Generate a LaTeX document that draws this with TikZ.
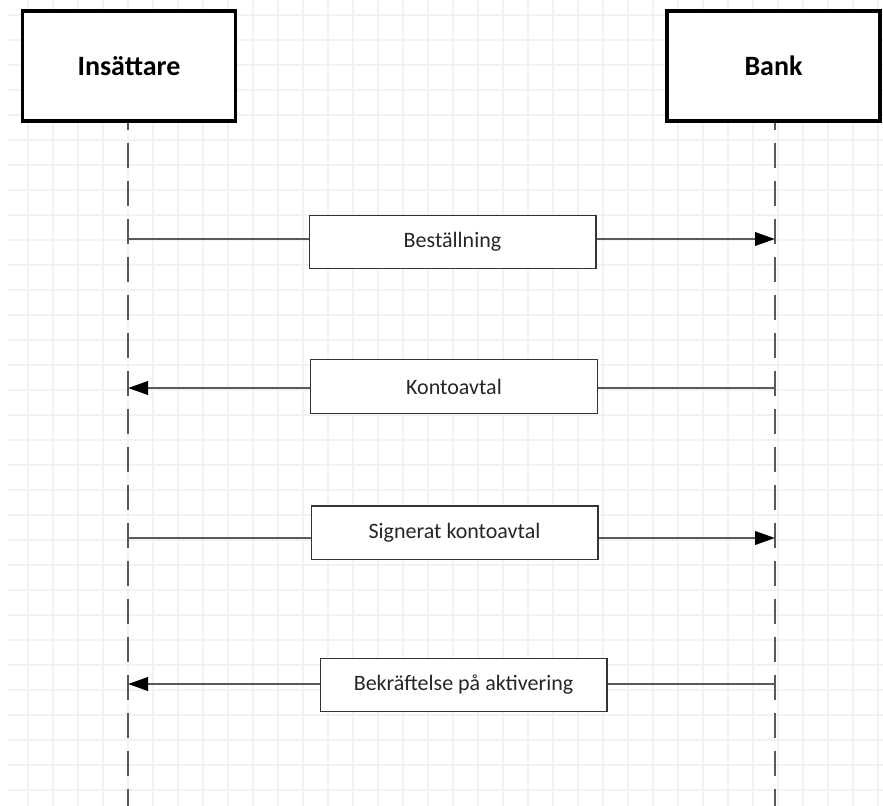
\documentclass[tikz,border=0pt]{standalone}
\usepackage{fontspec}
\setmainfont{Carlito}
\usetikzlibrary{arrows.meta,positioning}

\tikzset{
  aktor/.style={draw, line width=2.6pt, fill=white, minimum width=160pt, minimum height=82.5pt,
    font=\fontsize{21}{25}\selectfont\bfseries},
  etikett/.style={draw=black!80, line width=1pt, fill=white, minimum width=215pt, minimum height=40pt,
    font=\fontsize{16.5}{20}\selectfont, text=black!85},
  livslinje/.style={draw=black!65, line width=2pt, dash pattern=on 19pt off 9.5pt, dash phase=13.5pt},
  meddelande/.style={draw=black!65, line width=2pt},
  pil/.style={meddelande, -{Triangle[length=15pt, width=10pt, color=black]}},
  ruta/.style={draw=black!5, line width=1pt}
}

\begin{document}
\begin{tikzpicture}[x=0.75pt, y=-0.75pt]
    \useasboundingbox (0,0) rectangle (883,806);
    \foreach \x in {28,53,...,878}    % rutnät
        \draw[ruta] (\x,0) -- (\x,806);
    \foreach \y in {15,40,...,790}
        \draw[ruta] (8,\y) -- (883,\y);

    \node[aktor] (ins) at (129,66) {Insättare};
    \node[aktor] (bank) at (773.5,66) {Bank};
    \coordinate (insslut) at (128,806);
    \coordinate (bankslut) at (775,806);
    \draw[livslinje] (ins.south -| insslut) -- (insslut);     % livslinjer
    \draw[livslinje] (bank.south -| bankslut) -- (bankslut);

    \coordinate (ins1) at (128,239);  \coordinate (bank1) at (775,239);
    \coordinate (ins2) at (128,388);  \coordinate (bank2) at (775,388);
    \coordinate (ins3) at (128,538);  \coordinate (bank3) at (775,538);
    \coordinate (ins4) at (128,684);  \coordinate (bank4) at (775,684);

    \node[etikett] (best) at (452.5,242) {Beställning};
    \draw[meddelande] (ins1) -- (ins1 -| best.west);
    \draw[pil] (bank1 -| best.east) -- (bank1);

    \node[etikett] (avtal) at (454,386.5) {Kontoavtal};
    \draw[meddelande] (bank2) -- (bank2 -| avtal.east);
    \draw[pil] (ins2 -| avtal.west) -- (ins2);

    \node[etikett] (sign) at (454.5,532.5) {Signerat kontoavtal};
    \draw[meddelande] (ins3) -- (ins3 -| sign.west);
    \draw[pil] (bank3 -| sign.east) -- (bank3);

    \node[etikett] (aktiv) at (463.5,685) {Bekräftelse på aktivering};
    \draw[meddelande] (bank4) -- (bank4 -| aktiv.east);
    \draw[pil] (ins4 -| aktiv.west) -- (ins4);
\end{tikzpicture}
\end{document}
